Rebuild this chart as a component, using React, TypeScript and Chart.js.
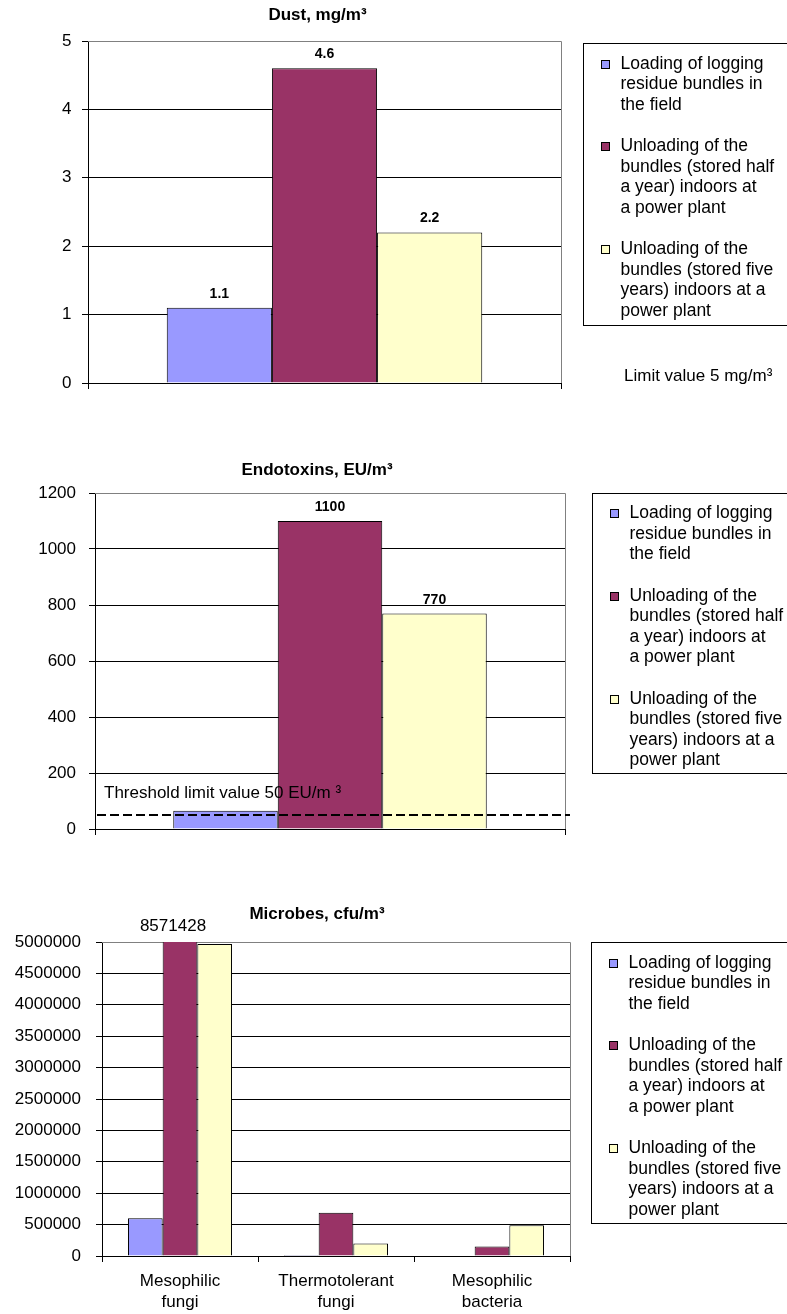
import React, { useEffect, useRef } from "react";
import { Chart, registerables } from "chart.js";

Chart.register(...registerables);

const FONT = "'Liberation Sans', Arial, Helvetica, sans-serif";

// Series shared by all three panels (legend text is pre-wrapped)
const seriesLegendLines: string[][] = [
  ["Loading of logging", "residue bundles in", "the field"],
  ["Unloading of the", "bundles (stored half", "a year) indoors at", "a power plant"],
  ["Unloading of the", "bundles (stored five", "years) indoors at a", "power plant"],
];
const seriesColors = ["#9999FF", "#993366", "#FFFFCC"];

// Dust, mg/m3
const dustCategories = [""];
const dustLoading = [1.1];
const dustHalfYear = [4.6];
const dustFiveYears = [2.2];
const dustAxisMax = 5;
const dustStep = 1;
const dustLimit = 5;

// Endotoxins, EU/m3
const endoCategories = [""];
const endoLoading = [65];
const endoHalfYear = [1100];
const endoFiveYears = [770];
const endoAxisMax = 1200;
const endoStep = 200;
const endoThreshold = 50;

// Microbes, cfu/m3
const microbeCategories = [
  ["Mesophilic", "fungi"],
  ["Thermotolerant", "fungi"],
  ["Mesophilic", "bacteria"],
];
const microbeLoading = [600000, 15000, 0];
const microbeHalfYear = [8571428, 690000, 150000];
const microbeFiveYears = [4970000, 200000, 490000];
const microbeAxisMax = 5000000;
const microbeStep = 500000;

const PAGE_W = 787;

type ValueLabel = { dataset: number; index: number; bold: boolean; gap: number; dx?: number };

interface PanelSpec {
  top: number;
  height: number;
  area: { left: number; right: number; top: number; bottom: number };
  tickPad: number;
  title: string;
  titleX: number;
  titleY: number;
  legendBox: { left: number; top: number; bottom: number };
  categories: (string | string[])[];
  series: number[][];
  max: number;
  step: number;
  valueLabels: ValueLabel[];
  threshold?: { value: number; text: string; textDx: number; textDy: number };
  note?: { text: string; x: number; y: number };
}

const panels: PanelSpec[] = [
  {
    top: 0,
    height: 430,
    area: { left: 88, right: 561, top: 41, bottom: 383 },
    tickPad: 10.5,
    title: "Dust, mg/m³",
    titleX: 317.5,
    titleY: 15,
    legendBox: { left: 583, top: 43, bottom: 325 },
    categories: dustCategories,
    series: [dustLoading, dustHalfYear, dustFiveYears],
    max: dustAxisMax,
    step: dustStep,
    valueLabels: [
      { dataset: 0, index: 0, bold: true, gap: 14 },
      { dataset: 1, index: 0, bold: true, gap: 14 },
      { dataset: 2, index: 0, bold: true, gap: 14 },
    ],
    note: { text: `Limit value ${dustLimit} mg/m³`, x: 624, y: 376 },
  },
  {
    top: 440,
    height: 420,
    area: { left: 95, right: 565, top: 53, bottom: 389 },
    tickPad: 13,
    title: "Endotoxins, EU/m³",
    titleX: 317,
    titleY: 30.7,
    legendBox: { left: 592, top: 52.5, bottom: 332 },
    categories: endoCategories,
    series: [endoLoading, endoHalfYear, endoFiveYears],
    max: endoAxisMax,
    step: endoStep,
    valueLabels: [
      { dataset: 1, index: 0, bold: true, gap: 13.5 },
      { dataset: 2, index: 0, bold: true, gap: 13.5 },
    ],
    threshold: { value: endoThreshold, text: `Threshold limit value ${endoThreshold} EU/m ³`, textDx: 9, textDy: -22 },
  },
  {
    top: 880,
    height: 434,
    area: { left: 102, right: 570, top: 62, bottom: 376 },
    tickPad: 15,
    title: "Microbes, cfu/m³",
    titleX: 317,
    titleY: 34,
    legendBox: { left: 591, top: 62, bottom: 343 },
    categories: microbeCategories,
    series: [microbeLoading, microbeHalfYear, microbeFiveYears],
    max: microbeAxisMax,
    step: microbeStep,
    valueLabels: [{ dataset: 1, index: 0, bold: false, gap: 16, dx: -7 }],
  },
];

// Draws the title, plot border, value labels, threshold line, notes and the boxed legend
const panelDecor = {
  id: "panelDecor",
  beforeDatasetsDraw(chart: any, _args: any, opts: any) {
    const spec: PanelSpec = opts.spec;
    if (!spec) return;
    const ctx = chart.ctx as CanvasRenderingContext2D;
    const a = chart.chartArea;
    ctx.save();
    ctx.strokeStyle = "#808080";
    ctx.lineWidth = 1;
    ctx.beginPath();
    const t = Math.round(a.top) + 0.5;
    const r = Math.round(a.right) + 0.5;
    ctx.moveTo(Math.round(a.left), t);
    ctx.lineTo(r, t);
    ctx.lineTo(r, Math.round(a.bottom));
    ctx.stroke();
    ctx.restore();
  },
  afterDatasetsDraw(chart: any, _args: any, opts: any) {
    const spec: PanelSpec = opts.spec;
    if (!spec) return;
    const ctx = chart.ctx as CanvasRenderingContext2D;
    const a = chart.chartArea;
    const y = chart.scales.y;
    ctx.save();
    ctx.fillStyle = "#000";
    ctx.textAlign = "center";
    ctx.textBaseline = "middle";

    // value labels above bars
    for (const lab of spec.valueLabels) {
      const el = chart.getDatasetMeta(lab.dataset).data[lab.index];
      const v = chart.data.datasets[lab.dataset].data[lab.index];
      ctx.font = `${lab.bold ? "bold 14px" : "17px"} ${FONT}`;
      const topY = Math.max(el.y, a.top);
      ctx.fillText(String(v), el.x + (lab.dx || 0), topY - lab.gap);
    }

    // threshold line
    if (spec.threshold) {
      const py = y.getPixelForValue(spec.threshold.value);
      ctx.strokeStyle = "#000";
      ctx.lineWidth = 2;
      ctx.setLineDash([9, 4]);
      ctx.beginPath();
      ctx.moveTo(a.left + 2, py);
      ctx.lineTo(a.right + 5, py);
      ctx.stroke();
      ctx.setLineDash([]);
      ctx.font = `17px ${FONT}`;
      ctx.textAlign = "left";
      ctx.fillText(spec.threshold.text, a.left + spec.threshold.textDx, py + spec.threshold.textDy);
    }
    ctx.restore();
  },
  afterDraw(chart: any, _args: any, opts: any) {
    const spec: PanelSpec = opts.spec;
    if (!spec) return;
    const ctx = chart.ctx as CanvasRenderingContext2D;
    ctx.save();
    ctx.fillStyle = "#000";

    // title
    ctx.font = `bold 17px ${FONT}`;
    ctx.textAlign = "center";
    ctx.textBaseline = "middle";
    ctx.fillText(spec.title, spec.titleX, spec.titleY);

    // legend box
    const lg = spec.legendBox;
    const bl = Math.round(lg.left) + 0.5;
    const bt = Math.round(lg.top) + 0.5;
    ctx.strokeStyle = "#000";
    ctx.lineWidth = 1;
    ctx.strokeRect(bl, bt, PAGE_W - bl + 10, Math.round(lg.bottom - lg.top));

    const lineH = 20.5;
    const entryGap = 21;
    let base = lg.top + 25.5;
    ctx.font = `17.5px ${FONT}`;
    ctx.textAlign = "left";
    ctx.textBaseline = "alphabetic";
    chart.data.datasets.forEach((ds: any, i: number) => {
      const lines = seriesLegendLines[i];
      const mx = Math.round(lg.left + 18);
      const my = Math.round(base - 9);
      ctx.fillStyle = ds.backgroundColor;
      ctx.fillRect(mx, my, 9, 9);
      ctx.strokeStyle = "#000";
      ctx.strokeRect(mx + 0.5, my + 0.5, 8, 8);
      ctx.fillStyle = "#000";
      lines.forEach((txt, k) => ctx.fillText(txt, lg.left + 37.5, base + k * lineH));
      base += lines.length * lineH + entryGap;
    });

    // free note
    if (spec.note) {
      ctx.font = `17px ${FONT}`;
      ctx.textBaseline = "middle";
      ctx.fillText(spec.note.text, spec.note.x, spec.note.y);
    }
    ctx.restore();
  },
};

function BarPanel({ spec }: { spec: PanelSpec }) {
  const ref = useRef<HTMLCanvasElement | null>(null);

  useEffect(() => {
    if (!ref.current) return;
    const chart = new Chart(ref.current, {
      type: "bar",
      data: {
        labels: spec.categories as any,
        datasets: spec.series.map((values, i) => ({
          label: seriesLegendLines[i].join(" "),
          data: values,
          backgroundColor: seriesColors[i],
          borderColor: "#000",
          borderWidth: 1,
          barPercentage: 1,
          categoryPercentage: 0.667,
        })),
      },
      options: {
        animation: false,
        responsive: false,
        devicePixelRatio: 1,
        events: [],
        layout: {
          padding: { left: 0, top: spec.area.top, right: PAGE_W - spec.area.right, bottom: 0 },
        },
        scales: {
          x: {
            grid: {
              display: true,
              drawOnChartArea: false,
              drawTicks: true,
              tickLength: 6,
              tickColor: "#000",
              offset: true,
            },
            border: { display: true, color: "#000", width: 1 },
            ticks: {
              color: "#000",
              font: { family: FONT, size: 17, lineHeight: 21 / 17 },
              padding: 9,
              autoSkip: false,
              maxRotation: 0,
              minRotation: 0,
            },
            afterFit: (scale: any) => {
              scale.height = spec.height - spec.area.bottom;
            },
          },
          y: {
            min: 0,
            max: spec.max,
            grid: {
              color: (c: any) => (c.tick && c.tick.value === spec.max ? "#808080" : "#000"),
              tickColor: "#000",
              tickLength: 6,
              lineWidth: 1,
            },
            border: { display: true, color: "#000", width: 1 },
            ticks: {
              stepSize: spec.step,
              color: "#000",
              font: { family: FONT, size: 17 },
              padding: spec.tickPad,
              callback: (v: any) => String(v),
            },
            afterFit: (scale: any) => {
              scale.width = spec.area.left;
            },
          },
        },
        plugins: {
          legend: { display: false },
          title: { display: false },
          tooltip: { enabled: false },
          panelDecor: { spec },
        } as any,
      },
      plugins: [panelDecor],
    });
    return () => chart.destroy();
  }, [spec]);

  return (
    <canvas
      ref={ref}
      width={PAGE_W}
      height={spec.height}
      style={{ position: "absolute", left: 0, top: spec.top, width: PAGE_W, height: spec.height, display: "block" }}
    />
  );
}

export default function App() {
  return (
    <div style={{ position: "absolute", left: 0, top: 0, width: PAGE_W, height: 1314, background: "#fff", overflow: "hidden" }}>
      {panels.map((p, i) => (
        <BarPanel key={i} spec={p} />
      ))}
    </div>
  );
}
